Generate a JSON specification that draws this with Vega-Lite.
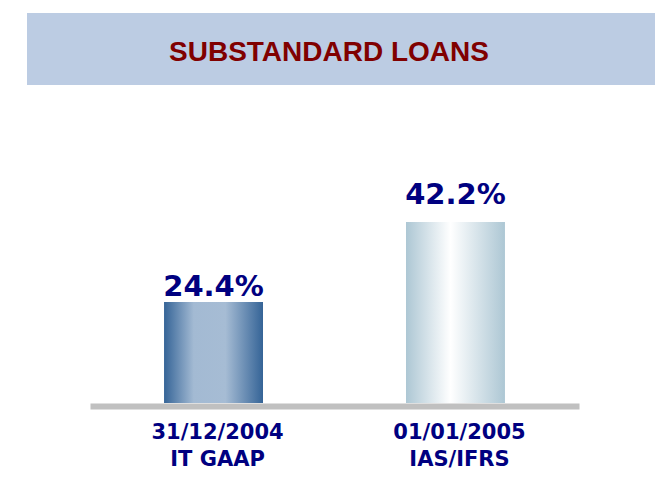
{
  "$schema": "https://vega.github.io/schema/vega-lite/v6.json",
  "background": "white",
  "padding": {"left": 27, "top": 13, "right": 0, "bottom": 0},
  "spacing": 0,
  "config": {"view": {"stroke": null}},
  "vconcat": [
    {
      "width": 628,
      "height": 72,
      "view": {"fill": "#BCCCE3", "stroke": null},
      "data": {"values": [{"title": "SUBSTANDARD LOANS"}]},
      "mark": {"type": "text", "font": "Liberation Sans", "fontWeight": "bold", "fontSize": 28, "color": "#800000", "baseline": "middle", "align": "center", "dx": -12, "dy": 4},
      "encoding": {"text": {"field": "title", "type": "nominal"}}
    },
    {
      "width": 628,
      "height": 318,
      "data": {"values": [
        {"id": 1, "period": "31/12/2004|IT GAAP", "value": 24.4, "label": "24.4%"},
        {"id": 2, "period": "01/01/2005|IAS/IFRS", "value": 42.2, "label": "42.2%"}
      ]},
      "encoding": {
        "x": {
          "field": "period", "type": "nominal", "sort": null,
          "scale": {"range": [63, 552], "paddingInner": 0.591, "paddingOuter": 0.306},
          "axis": {"title": null, "labelAngle": 0, "labelExpr": "split(datum.label, '|')", "ticks": false, "tickSize": 0, "domainColor": "#C0C0C0", "domainWidth": 6, "offset": 3, "labelPadding": 15, "labelFont": "DejaVu Sans", "labelFontWeight": "bold", "labelFontSize": 21, "labelColor": "#000080", "labelLineHeight": 27, "labelOffset": 4, "labelBaseline": "top", "grid": false}
        },
        "y": {"field": "value", "type": "quantitative", "scale": {"domain": [1.9, 72.7], "zero": false, "nice": false}, "axis": null}
      },
      "layer": [
        {
          "transform": [{"filter": "datum.id == 1"}],
          "mark": {"type": "bar", "clip": true, "color": {"gradient": "linear", "x1": 0, "y1": 0, "x2": 1, "y2": 0, "stops": [{"offset": 0, "color": "#356497"}, {"offset": 0.3, "color": "#A3BAD3"}, {"offset": 0.62, "color": "#A6BCD4"}, {"offset": 1, "color": "#356497"}]}}
        },
        {
          "transform": [{"filter": "datum.id == 2"}],
          "mark": {"type": "bar", "clip": true, "color": {"gradient": "linear", "x1": 0, "y1": 0, "x2": 1, "y2": 0, "stops": [{"offset": 0, "color": "#ADC7D4"}, {"offset": 0.45, "color": "#FFFFFF"}, {"offset": 1, "color": "#ADC7D4"}]}}
        },
        {
          "transform": [{"filter": "datum.id == 1"}],
          "mark": {"type": "text", "font": "DejaVu Sans", "fontWeight": "bold", "fontSize": 29, "color": "#000080", "baseline": "alphabetic", "dy": -6},
          "encoding": {"text": {"field": "label", "type": "nominal"}}
        },
        {
          "transform": [{"filter": "datum.id == 2"}],
          "mark": {"type": "text", "font": "DejaVu Sans", "fontWeight": "bold", "fontSize": 29, "color": "#000080", "baseline": "alphabetic", "dy": -18},
          "encoding": {"text": {"field": "label", "type": "nominal"}}
        }
      ]
    }
  ]
}
